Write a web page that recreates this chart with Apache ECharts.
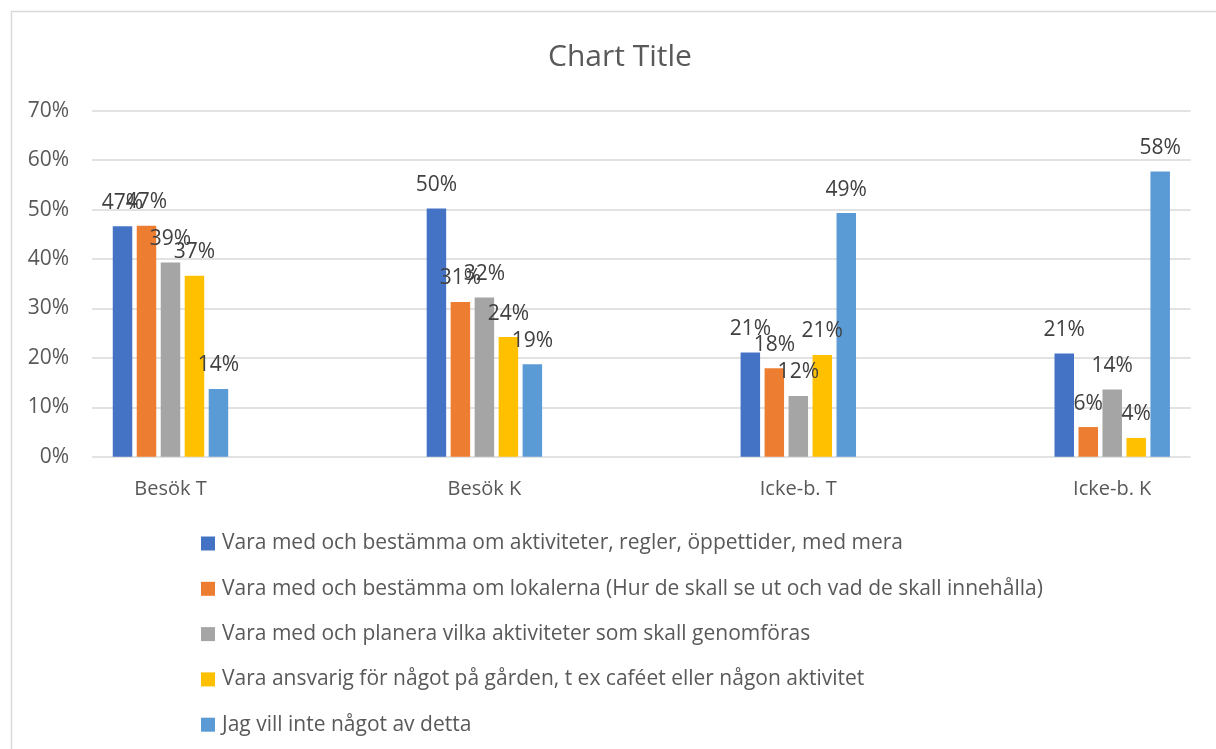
<!DOCTYPE html>
<html>
<head>
<meta charset="utf-8">
<script src="https://cdn.jsdelivr.net/npm/echarts@6/dist/echarts.min.js"></script>
<style>
html,body{margin:0;padding:0;background:#fff;}
#chart{width:1216px;height:749px;}
</style>
</head>
<body>
<div id="chart"></div>
<script>
const categories = ['Besök T', 'Besök K', 'Icke-b. T', 'Icke-b. K'];
const seriesNames = [
  'Vara med och bestämma om aktiviteter, regler, öppettider, med mera',
  'Vara med och bestämma om lokalerna (Hur de skall se ut och vad de skall innehålla)',
  'Vara med och planera vilka aktiviteter som skall genomföras',
  'Vara ansvarig för något på gården, t ex caféet eller någon aktivitet',
  'Jag vill inte något av detta'
];
const aktiviteter = [0.466, 0.502, 0.211, 0.209];
const lokalerna   = [0.467, 0.313, 0.179, 0.060];
const planera     = [0.393, 0.322, 0.123, 0.136];
const ansvarig    = [0.366, 0.242, 0.206, 0.038];
const ingenting   = [0.137, 0.187, 0.493, 0.577];
const yTicks = [0, 0.1, 0.2, 0.3, 0.4, 0.5, 0.6, 0.7];
const colors = ['#4472C4', '#ED7D31', '#A5A5A5', '#FFC000', '#5B9BD5'];

const seriesData = [aktiviteter, lokalerna, planera, ansvarig, ingenting];
const FONT = '"Open Sans"';
const pct = v => Math.round(v * 100) + '%';
const catIndex = categories.map((c, i) => i);

const chart = echarts.init(document.getElementById('chart'), null, {renderer: 'canvas'});
chart.setOption({
  backgroundColor: '#ffffff',
  animation: false,
  color: colors,
  title: {
    text: 'Chart Title',
    left: 615, top: 37,
    textAlign: 'center',
    textStyle: {fontFamily: FONT, fontSize: 30, fontWeight: 'normal', color: '#595959'}
  },
  graphic: [{
    type: 'rect', silent: true, z: -10,
    shape: {x: 11.5, y: 11.5, width: 1250, height: 800},
    style: {fill: 'none', stroke: '#d9d9d9', lineWidth: 1.5}
  }],
  legend: {
    orient: 'vertical',
    left: 201, top: 533, padding: 0,
    itemWidth: 14, itemHeight: 14, itemGap: 24.3,
    icon: 'rect',
    data: seriesNames,
    textStyle: {fontFamily: FONT, fontSize: 21, color: '#595959', lineHeight: 20, padding: [0,0,0,2]}
  },
  grid: {left: 92, right: 25.3, top: 110.7, bottom: 292.3},
  xAxis: {
    type: 'value', min: -0.25, max: 3.25,
    axisLine: {show: false}, axisTick: {show: false}, splitLine: {show: false},
    axisLabel: {
      customValues: catIndex,
      fontFamily: FONT, fontSize: 20, color: '#595959', margin: 23, lineHeight: 20,
      formatter: v => { const i = Math.round(v); return Math.abs(v - i) < 1e-6 && categories[i] ? categories[i] : ''; }
    }
  },
  yAxis: {
    type: 'value', min: 0, max: 0.7, interval: 0.1,
    axisLine: {show: false}, axisTick: {show: false},
    splitLine: {lineStyle: {color: '#d9d9d9', width: 1.5}},
    axisLabel: {fontFamily: FONT, fontSize: 21, color: '#595959', margin: 23,
      formatter: v => { const t = yTicks.find(x => Math.abs(x - v) < 1e-9); return t === undefined ? '' : pct(t); }}
  },
  series: seriesData.map((d, i) => ({
    name: seriesNames[i],
    type: 'bar',
    data: d.map((v, j) => [catIndex[j], v]),
    barWidth: 19.5,
    barGap: '23%',
    itemStyle: {color: colors[i]},
    label: {
      show: true, position: 'top', distance: 13,
      fontFamily: FONT, fontSize: 21, color: '#404040',
      formatter: p => pct(p.value[1])
    }
  }))
});
</script>
</body>
</html>
